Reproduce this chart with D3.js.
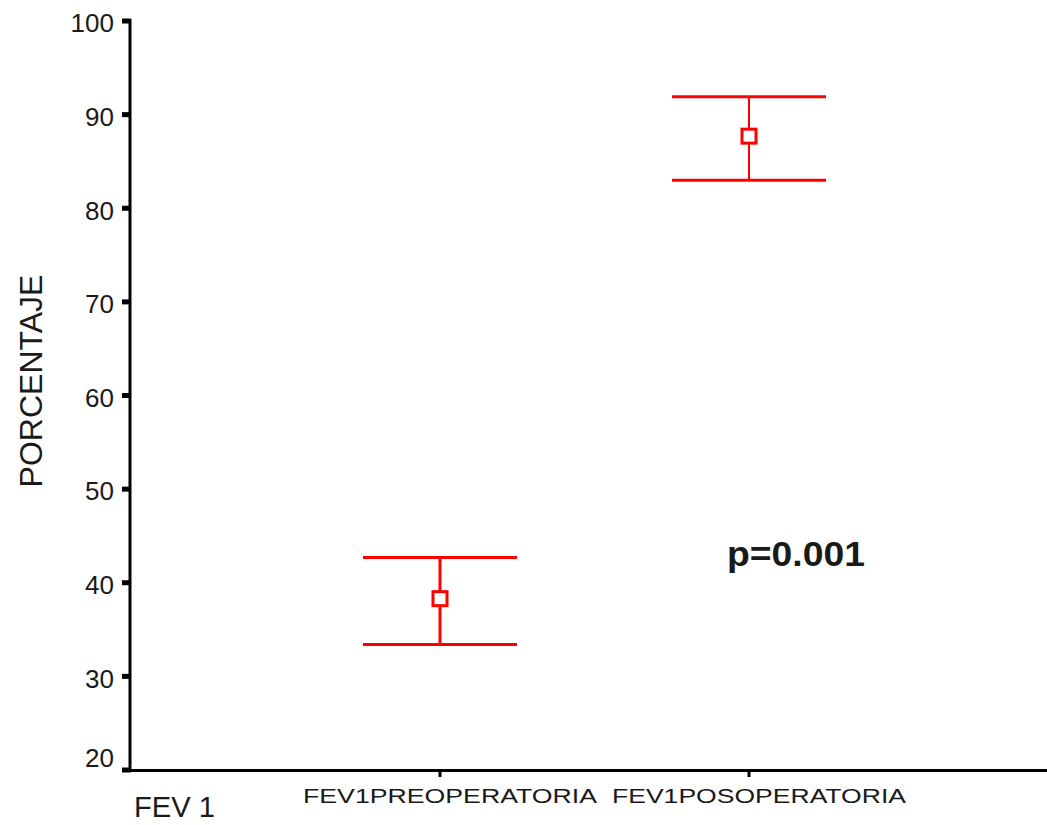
<!DOCTYPE html>
<html lang="es">
<head>
  <meta charset="UTF-8">
  <title>FEV1</title>
  <script src="https://d3js.org/d3.v7.min.js"></script>
  <style>
    body { margin: 0; background: #fff; font-family: Arial, "Liberation Sans", sans-serif; }
    text { fill: #1a1a1a; }
  </style>
</head>
<body>
  <script>
    // Data
    const categories = ["FEV1PREOPERATORIA", "FEV1POSOPERATORIA"];
    const means = [38.3, 87.7];
    const lower = [33.4, 83.0];
    const upper = [42.7, 91.9];
    const yTicks = [20, 30, 40, 50, 60, 70, 80, 90, 100];

    const width = 1047;
    const height = 825;

    const svg = d3.select("body")
      .append("svg")
      .attr("width", width)
      .attr("height", height);

    // Scales
    const y = d3.scaleLinear().domain([20, 100]).range([770, 21]);
    const x = d3.scalePoint().domain(categories).range([440, 749]);

    // Y axis line
    svg.append("line")
      .attr("x1", 130).attr("x2", 130)
      .attr("y1", y(100) - 2).attr("y2", y(20) + 2)
      .attr("stroke", "#000").attr("stroke-width", 3);

    // Y ticks
    svg.selectAll(".ytick")
      .data(yTicks)
      .enter()
      .append("line")
      .attr("x1", 122).attr("x2", 131)
      .attr("y1", d => y(d)).attr("y2", d => y(d))
      .attr("stroke", "#000").attr("stroke-width", 5);

    // bottom label sits a little above its tick in the original
    svg.selectAll(".ylabel")
      .data(yTicks)
      .enter()
      .append("text")
      .attr("x", 114)
      .attr("y", d => y(d) + (d === 20 ? -12 : 2))
      .attr("dy", "0.36em")
      .attr("text-anchor", "end")
      .attr("font-size", 26)
      .text(d => d);

    // X axis line
    svg.append("line")
      .attr("x1", 128).attr("x2", width)
      .attr("y1", 770.5).attr("y2", 770.5)
      .attr("stroke", "#000").attr("stroke-width", 3);

    // X ticks
    svg.selectAll(".xtick")
      .data(categories)
      .enter()
      .append("line")
      .attr("x1", d => x(d)).attr("x2", d => x(d))
      .attr("y1", 770).attr("y2", 777)
      .attr("stroke", "#000").attr("stroke-width", 3);

    // Category labels (stretched like the original)
    svg.selectAll(".xlabel")
      .data(categories)
      .enter()
      .append("text")
      .attr("x", d => x(d) - 137)
      .attr("y", 803)
      .attr("font-size", 20)
      .attr("textLength", 294)
      .attr("lengthAdjust", "spacingAndGlyphs")
      .text(d => d);

    // Axis titles
    svg.append("text")
      .attr("transform", "translate(42,381) rotate(-90)")
      .attr("text-anchor", "middle")
      .attr("font-size", 32)
      .text("PORCENTAJE");

    svg.append("text")
      .attr("x", 134)
      .attr("y", 817)
      .attr("font-size", 29)
      .attr("textLength", 81)
      .attr("lengthAdjust", "spacingAndGlyphs")
      .text("FEV 1");

    // Error bars
    const capHalf = 77;
    const bars = svg.selectAll(".bar")
      .data(categories)
      .enter()
      .append("g")
      .attr("stroke", "#f00")
      .attr("fill", "none");

    bars.append("line")
      .attr("x1", d => x(d)).attr("x2", d => x(d))
      .attr("y1", (d, i) => y(upper[i])).attr("y2", (d, i) => y(lower[i]))
      .attr("stroke-width", (d, i) => i === 0 ? 3 : 2);

    bars.append("line")
      .attr("x1", d => x(d) - capHalf).attr("x2", d => x(d) + capHalf)
      .attr("y1", (d, i) => y(upper[i])).attr("y2", (d, i) => y(upper[i]))
      .attr("stroke-width", 3);

    bars.append("line")
      .attr("x1", d => x(d) - capHalf).attr("x2", d => x(d) + capHalf)
      .attr("y1", (d, i) => y(lower[i])).attr("y2", (d, i) => y(lower[i]))
      .attr("stroke-width", 3);

    bars.append("rect")
      .attr("x", d => x(d) - 7)
      .attr("y", (d, i) => y(means[i]) - 7)
      .attr("width", 14)
      .attr("height", 14)
      .attr("fill", "#fff")
      .attr("stroke-width", 3);

    // p-value annotation
    svg.append("text")
      .attr("x", 727)
      .attr("y", 566)
      .attr("font-size", 35)
      .attr("font-weight", "bold")
      .attr("textLength", 138)
      .attr("lengthAdjust", "spacingAndGlyphs")
      .text("p=0.001");
  </script>
</body>
</html>
